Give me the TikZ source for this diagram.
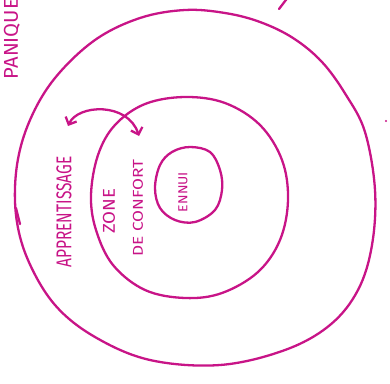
\documentclass[tikz,border=0pt]{standalone}
\usepackage{fontspec}
\setsansfont{Fira Sans}
\usetikzlibrary{arrows.meta}
\definecolor{feutre}{RGB}{200,20,135}

\begin{document}
\begin{tikzpicture}[x=1pt, y=-1pt, >={Straight Barb[length=6pt,width=12pt]},
    trait/.style={draw=feutre, line width=2.3pt, line cap=round, line join=round},
    mot/.style={text=feutre, font=\sffamily, rotate=90, inner sep=0pt}]
        \useasboundingbox (0,0) rectangle (390,383);
        % ==== ZONES ====
        \draw[trait] plot[smooth cycle, tension=0.6] coordinates {(185,10) (225,13) (260,22) (293,38) (322,62)
            (346,95) (365,132) (375,190) (372,245) (358,290) (330,325) (285,350) (220,365) (150,360)
            (95,337) (55,305) (28,260) (16,215) (17,165) (30,120) (55,78) (95,40) (140,18)};
        \draw[trait] plot[smooth cycle, tension=0.6] coordinates {(185,97) (225,103) (260,125) (282,160)
            (288,200) (280,240) (258,272) (222,293) (185,298) (145,290) (113,265) (96,230) (91,195)
            (98,155) (115,125) (145,104)};
        \draw[trait] plot[smooth cycle, tension=0.6] coordinates {(190,147) (210,152) (220,170) (222,190)
            (215,210) (195,222) (175,220) (160,208) (155,188) (160,165) (172,152)};
        % ==== STRAY MARKS ====
        \draw[trait] (16,208) -- (20,224);
        \draw[trait] (279,9) -- (292,-8);
        \fill[feutre] (386,121) circle (1.2);
        % ==== WORDS ====
        \node[mot] (panique) at (12,39) {\resizebox{80pt}{14pt}{PANIQUE}};
        \node[mot] (apprentissage) at (64,212) {\resizebox{111pt}{15pt}{APPRENTISSAGE}};
        \node[mot] (zone) at (109,211) {\resizebox{45pt}{12pt}{ZONE}};
        \node[mot] (confort) at (138,208) {\resizebox{97pt}{10pt}{DE CONFORT}};
        \node[mot] (ennui) at (183,192) {\resizebox{40pt}{9pt}{ENNUI}};
        % ==== SWAP ARROW ====
        \coordinate (gauche) at (68,126);
        \coordinate (droite) at (139,136);
        \draw[trait, <->] (gauche) .. controls (78,104) and (128,102) .. (droite);
\end{tikzpicture}
\end{document}
